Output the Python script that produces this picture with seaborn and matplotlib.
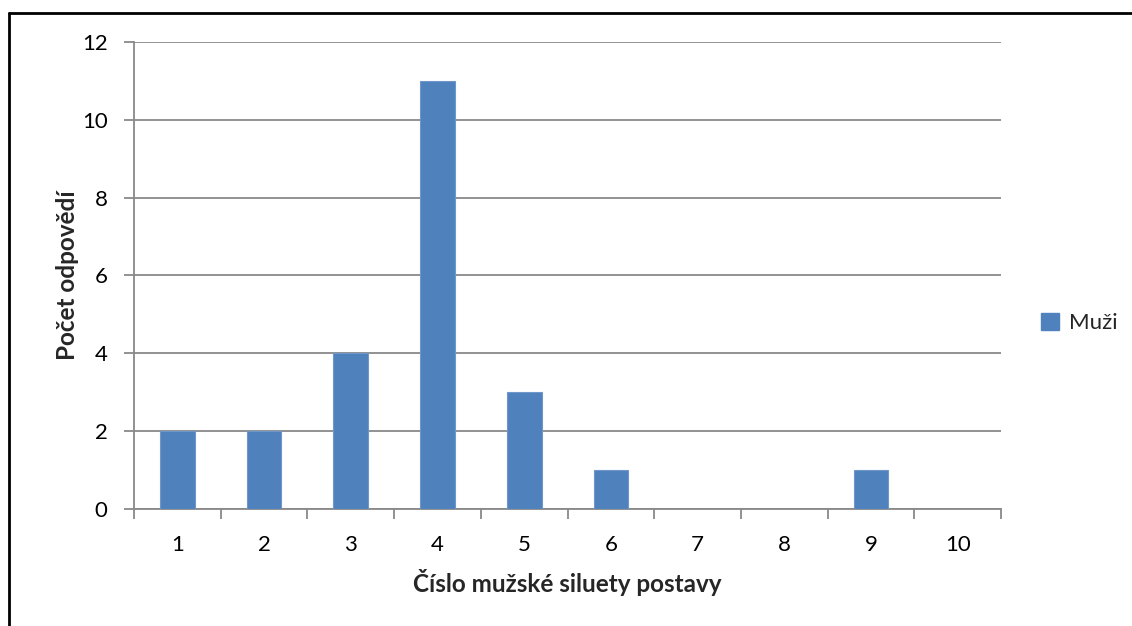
import matplotlib
matplotlib.use("Agg")
import matplotlib.pyplot as plt
import seaborn as sns
import pandas as pd
from matplotlib.lines import Line2D
from matplotlib.patches import Patch

categories = ["1", "2", "3", "4", "5", "6", "7", "8", "9", "10"]
counts = [2, 2, 4, 11, 3, 1, 0, 0, 1, 0]
series_name = "Muži"
y_ticks = [0, 2, 4, 6, 8, 10, 12]

sns.set_theme(style="white")
plt.rcParams["font.family"] = ["Lato", "DejaVu Sans"]

BAR = "#4F81BD"
GREY = "#898989"

df = pd.DataFrame({"cislo": categories, "pocet": counts})

fig = plt.figure(figsize=(11.32, 6.26), dpi=100)
ax = fig.add_axes([0.1184, 0.1869, 0.7659, 0.7462])

sns.barplot(data=df, x="cislo", y="pocet", order=categories, color=BAR,
            width=0.4, saturation=1, edgecolor="#6F97CA", linewidth=0.8,
            ax=ax, zorder=3)

ax.set_xlim(-0.5, len(categories) - 0.5)
ax.set_ylim(0, 12)
ax.set_yticks(y_ticks)
ax.set_yticklabels([str(v) for v in y_ticks])

# category boundaries carry the tick marks, labels sit at the centres
ax.set_xticks([i - 0.5 for i in range(len(categories) + 1)], minor=True)
ax.tick_params(axis="x", which="major", length=0, pad=19, labelsize=16, colors="black")
ax.tick_params(axis="x", which="minor", length=7, width=1.3, color=GREY, direction="out",
               bottom=True)
ax.tick_params(axis="y", which="major", length=7, width=1.3, color=GREY, direction="out",
               left=True, pad=12, labelsize=16, labelcolor="black")

ax.grid(axis="y", color=GREY, linewidth=1.3, zorder=0)
ax.set_axisbelow(True)
for side in ("top", "right"):
    ax.spines[side].set_visible(False)
for side in ("left", "bottom"):
    ax.spines[side].set_color(GREY)
    ax.spines[side].set_linewidth(1.3)

ax.set_xlabel("Číslo mužské siluety postavy", fontsize=17.5, fontweight="bold", labelpad=10)
ax.set_ylabel("Počet odpovědí", fontsize=17.5, fontweight="bold", labelpad=2)

handles = [Patch(facecolor=BAR, edgecolor=BAR)]
fig.legend(handles, [series_name], loc="center left", bbox_to_anchor=(0.910, 0.484),
           frameon=False, fontsize=16, handlelength=0.8, handleheight=0.8,
           handletextpad=0.45, borderpad=0)

# chart-area frame
fig.add_artist(Line2D([8.5 / 1132, 8.5 / 1132], [0, 1 - 12.5 / 626], transform=fig.transFigure,
                      color="black", linewidth=2))
fig.add_artist(Line2D([8.5 / 1132, 1], [1 - 12.5 / 626, 1 - 12.5 / 626], transform=fig.transFigure,
                      color="black", linewidth=2))

fig.savefig("out.png", dpi=100, facecolor="white")
